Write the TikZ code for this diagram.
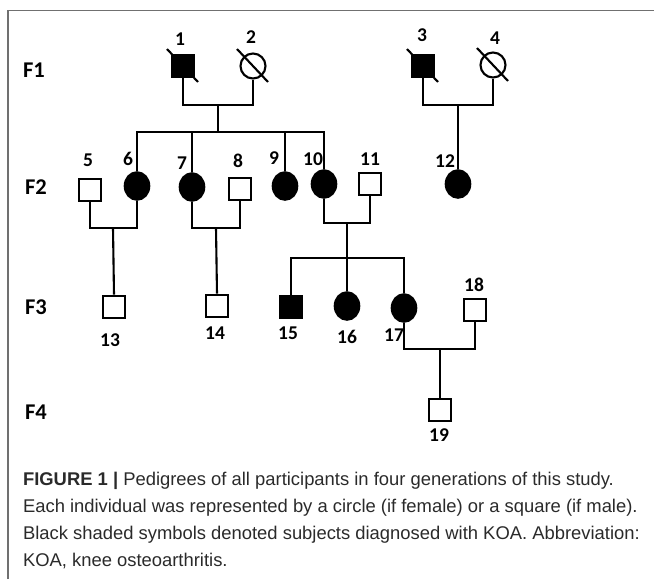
\documentclass[tikz,border=0pt]{standalone}
\usepackage{fontspec}
\setmainfont{Liberation Sans}
\newfontfamily\labfont{Carlito}
\usetikzlibrary{shapes.geometric}
\definecolor{framegray}{HTML}{707070}
\definecolor{captext}{HTML}{2A2A2A}
\begin{document}
\begin{tikzpicture}[x=1pt,y=-1pt,
  line width=2.1pt,
  male/.style={draw, rectangle, minimum size=22.5pt, inner sep=0pt, line width=2.1pt},
  female/.style={draw, ellipse, minimum width=24.5pt, minimum height=27.5pt, inner sep=0pt, line width=2.1pt},
  opencircle/.style={draw, circle, minimum size=25pt, inner sep=0pt, line width=2.1pt},
  affected/.style={fill=black},
  num/.style={font=\labfont\bfseries\fontsize{19.5}{19.5}\selectfont, inner sep=0pt},
  gen/.style={font=\labfont\bfseries\fontsize{22.5}{22.5}\selectfont, inner sep=0pt, anchor=west},
  capline/.style={font=\fontsize{18.4}{22}\selectfont, text=captext, inner sep=0pt, anchor=west},
  link/.style={line width=2.1pt},
  deceased/.style={line width=2.1pt}
]
\useasboundingbox (0,0) rectangle (654,579);
% frame
\draw[framegray, line width=1.3pt] (8,579) -- (8,10.5) -- (654,10.5);

% generation labels
\node[gen] (F1) at (22,70) {F1};
\node[gen] (F2) at (24,187) {F2};
\node[gen] (F3) at (24,307) {F3};
\node[gen] (F4) at (24,412) {F4};

% F1
\node[male, affected] (n1) at (183,66) {};
\node[opencircle] (n2) at (253,66) {};
\node[male, affected] (n3) at (423,66) {};
\node[opencircle] (n4) at (493,65) {};
% F2
\node[male] (n5) at (90,190) {};
\node[female, affected] (n6) at (137,186) {};
\node[female, affected] (n7) at (192,187) {};
\node[male] (n8) at (240,189) {};
\node[female, affected] (n9) at (285,186) {};
\node[female, affected] (n10) at (324,184) {};
\node[male] (n11) at (370,184) {};
\node[female, affected] (n12) at (458,184) {};
% F3
\node[male] (n13) at (114,307) {};
\node[male] (n14) at (217,306) {};
\node[male, affected] (n15) at (291,307) {};
\node[female, affected] (n16) at (347,306) {};
\node[female, affected] (n17) at (404,308) {};
\node[male] (n18) at (475,310) {};
% F4
\node[male] (n19) at (440,410) {};

% deceased slashes
\foreach \n in {n1,n2,n3,n4}
  \draw[deceased] ([shift={(-16,-17)}]\n.center) -- ([shift={(15,16)}]\n.center);

% number labels
\node[num] (l1) at (180,39) {1};
\node[num] (l2) at (251,37) {2};
\node[num] (l3) at (422,35) {3};
\node[num] (l4) at (495,38) {4};
\node[num] (l5) at (88,160) {5};
\node[num] (l6) at (128,159) {6};
\node[num] (l7) at (182,163) {7};
\node[num] (l8) at (238,161) {8};
\node[num] (l9) at (274,158) {9};
\node[num] (l10) at (313,159) {10};
\node[num] (l11) at (370,159) {11};
\node[num] (l12) at (445,161) {12};
\node[num] (l13) at (110,340) {13};
\node[num] (l14) at (215,333) {14};
\node[num] (l15) at (288,333) {15};
\node[num] (l16) at (347,337) {16};
\node[num] (l17) at (394,335) {17};
\node[num] (l18) at (474,285) {18};
\node[num] (l19) at (439,435) {19};

% connector coordinates
\coordinate (m12) at (218,105);
\coordinate (s1) at (218,132);
\coordinate (m34) at (458,105);
\coordinate (m56) at (113,228);
\coordinate (m78) at (216,228);
\coordinate (m1011) at (347,223);
\coordinate (s2) at (347,258);
\coordinate (m1718) at (440,349);

% marriage 1-2 and sibship
\draw[link] (n1.south) |- (m12) -| (n2.south);
\draw[link] (m12) -- (s1);
\draw[link] (n6.north) |- (s1) -| (n10.north);
\draw[link] (n7.north) -- (n7.north |- s1);
\draw[link] (n9.north) -- (n9.north |- s1);
% marriage 3-4
\draw[link] (n3.south) |- (m34) -| (n4.south);
\draw[link] (m34) -- (n12.north);
% marriage 5-6
\draw[link] (n5.south) |- (m56) -| (n6.south);
\draw[link] (m56) -- (n13.north);
% marriage 7-8
\draw[link] (n7.south) |- (m78) -| (n8.south);
\draw[link] (m78) -- (n14.north);
% marriage 10-11
\draw[link] (n10.south) |- (m1011) -| (n11.south);
\draw[link] (m1011) -- (s2);
\draw[link] (n15.north) |- (s2) -| (n17.north);
\draw[link] (n16.north) -- (n16.north |- s2);
% marriage 17-18
\draw[link] (n17.south) |- (m1718) -| (n18.south);
\draw[link] (m1718) -- (n19.north);

% caption
\node[capline] (c1) at (22,481) {\textbf{FIGURE 1 |} Pedigrees of all participants in four generations of this study.};
\node[capline] (c2) at (22,508) {Each individual was represented by a circle (if female) or a square (if male).};
\node[capline] (c3) at (22,535) {Black shaded symbols denoted subjects diagnosed with KOA. Abbreviation:};
\node[capline] (c4) at (22,561) {KOA, knee osteoarthritis.};
\end{tikzpicture}
\end{document}
